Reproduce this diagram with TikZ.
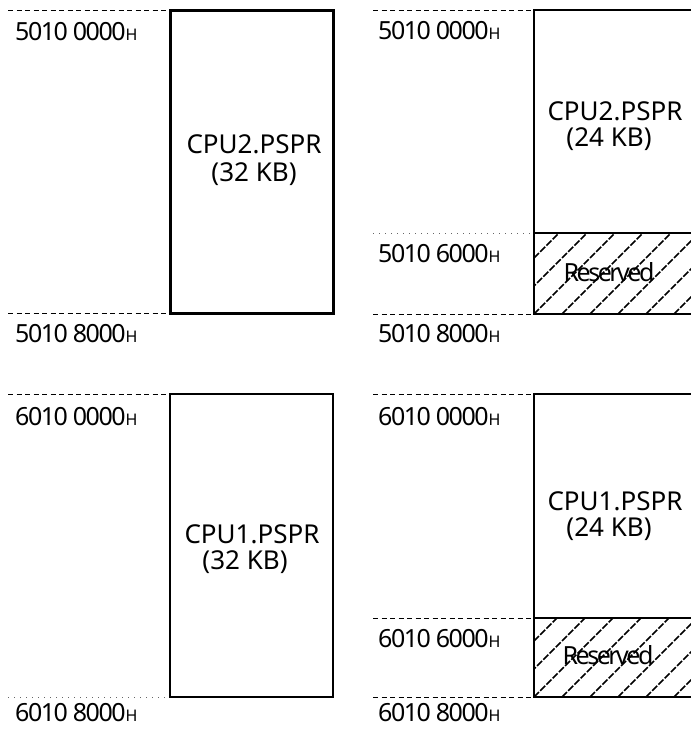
\documentclass[tikz,border=0pt]{standalone}
\usepackage{fontspec}
\setmainfont{Noto Sans}
\newfontfamily\addrfont[LetterSpace=-6]{Noto Sans}
\newfontfamily\resfont[LetterSpace=-10]{Noto Sans}
\usetikzlibrary{positioning}
\newcommand{\addr}[1]{{\addrfont #1{\fontsize{16}{16}\selectfont H}}}
\tikzset{
  mem/.style={draw=black,line width=2pt},
  memB/.style={mem,line width=3pt},
  guide/.style={dash pattern=on 5pt off 3.5pt,line width=1pt},
  guideD/.style={dash pattern=on 1pt off 5pt,line width=1pt,black!60},
  adr/.style={anchor=base west,inner sep=0pt,font=\fontsize{25}{25}\selectfont},
  lbl/.style={anchor=base,inner sep=0pt,font=\fontsize{26}{26}\selectfont},
  res/.style={inner sep=0pt,font=\fontsize{25}{25}\selectfont\resfont},
  hatch/.style={line width=1.7pt,dash pattern=on 7pt off 1.8pt},
}

\begin{document}
\begin{tikzpicture}[x=1pt,y=-1pt]
    \useasboundingbox (0,0) rectangle (691,729);
    % CPU2 PSPR, 32 KB
    \draw[memB] (170,10) rectangle (333,313);
    \draw[guide] (8,10) -- (170,10);
    \draw[guide] (8,313) -- (170,313);
    \node[adr] (a2s) at (15,40) {\addr{5010 0000}};
    \node[adr] (a2e) at (15,342) {\addr{5010 8000}};
    \node[lbl] (p2) at (254,153) {CPU2.PSPR};
    \node[lbl] (k2) at (254,181) {(32 KB)};
    % CPU2 PSPR, 24 KB + reserved
    \draw[mem] (691,10) -- (534,10) -- (534,314) -- (691,314);
    \draw[mem] (534,233) -- (691,233);
    \draw[guide] (373,10) -- (534,10);
    \draw[guideD] (373,233) -- (534,233);
    \draw[guide] (373,314) -- (534,314);
    \node[adr] (b2s) at (378,39) {\addr{5010 0000}};
    \node[adr] (b2m) at (378,262) {\addr{5010 6000}};
    \node[adr] (b2e) at (378,342) {\addr{5010 8000}};
    \node[lbl] (q2) at (615,120) {CPU2.PSPR};
    \node[lbl] (m2) at (609,146) {(24 KB)};
    \node[res] (r2) at (609,272) {Reserved};
    \begin{scope}
      \clip (534,233) rectangle (691,314);
      \foreach \x in {450,478,...,720}
        \draw[hatch] (\x,314) -- (\x+81,233);
    \end{scope}
    % CPU1 PSPR, 32 KB
    \draw[mem] (170,394) rectangle (333,697);
    \draw[guide] (8,394) -- (170,394);
    \draw[guideD] (8,697) -- (165,697);
    \node[adr] (a1s) at (15,425) {\addr{6010 0000}};
    \node[adr] (a1e) at (15,721) {\addr{6010 8000}};
    \node[lbl] (p1) at (252,543) {CPU1.PSPR};
    \node[lbl] (k1) at (245,569) {(32 KB)};
    % CPU1 PSPR, 24 KB + reserved
    \draw[mem] (691,394) -- (534,394) -- (534,697) -- (691,697);
    \draw[mem] (534,618) -- (691,618);
    \draw[guide] (373,394) -- (534,394);
    \draw[guide] (373,618) -- (534,618);
    \draw[guide] (373,697) -- (534,697);
    \node[adr] (b1s) at (378,425) {\addr{6010 0000}};
    \node[adr] (b1m) at (378,647) {\addr{6010 6000}};
    \node[adr] (b1e) at (378,721) {\addr{6010 8000}};
    \node[lbl] (q1) at (615,510) {CPU1.PSPR};
    \node[lbl] (m1) at (609,536) {(24 KB)};
    \node[res] (r1) at (608,655) {Reserved};
    \begin{scope}
      \clip (534,618) rectangle (691,697);
      \foreach \x in {450,478,...,720}
        \draw[hatch] (\x,697) -- (\x+79,618);
    \end{scope}
\end{tikzpicture}
\end{document}
